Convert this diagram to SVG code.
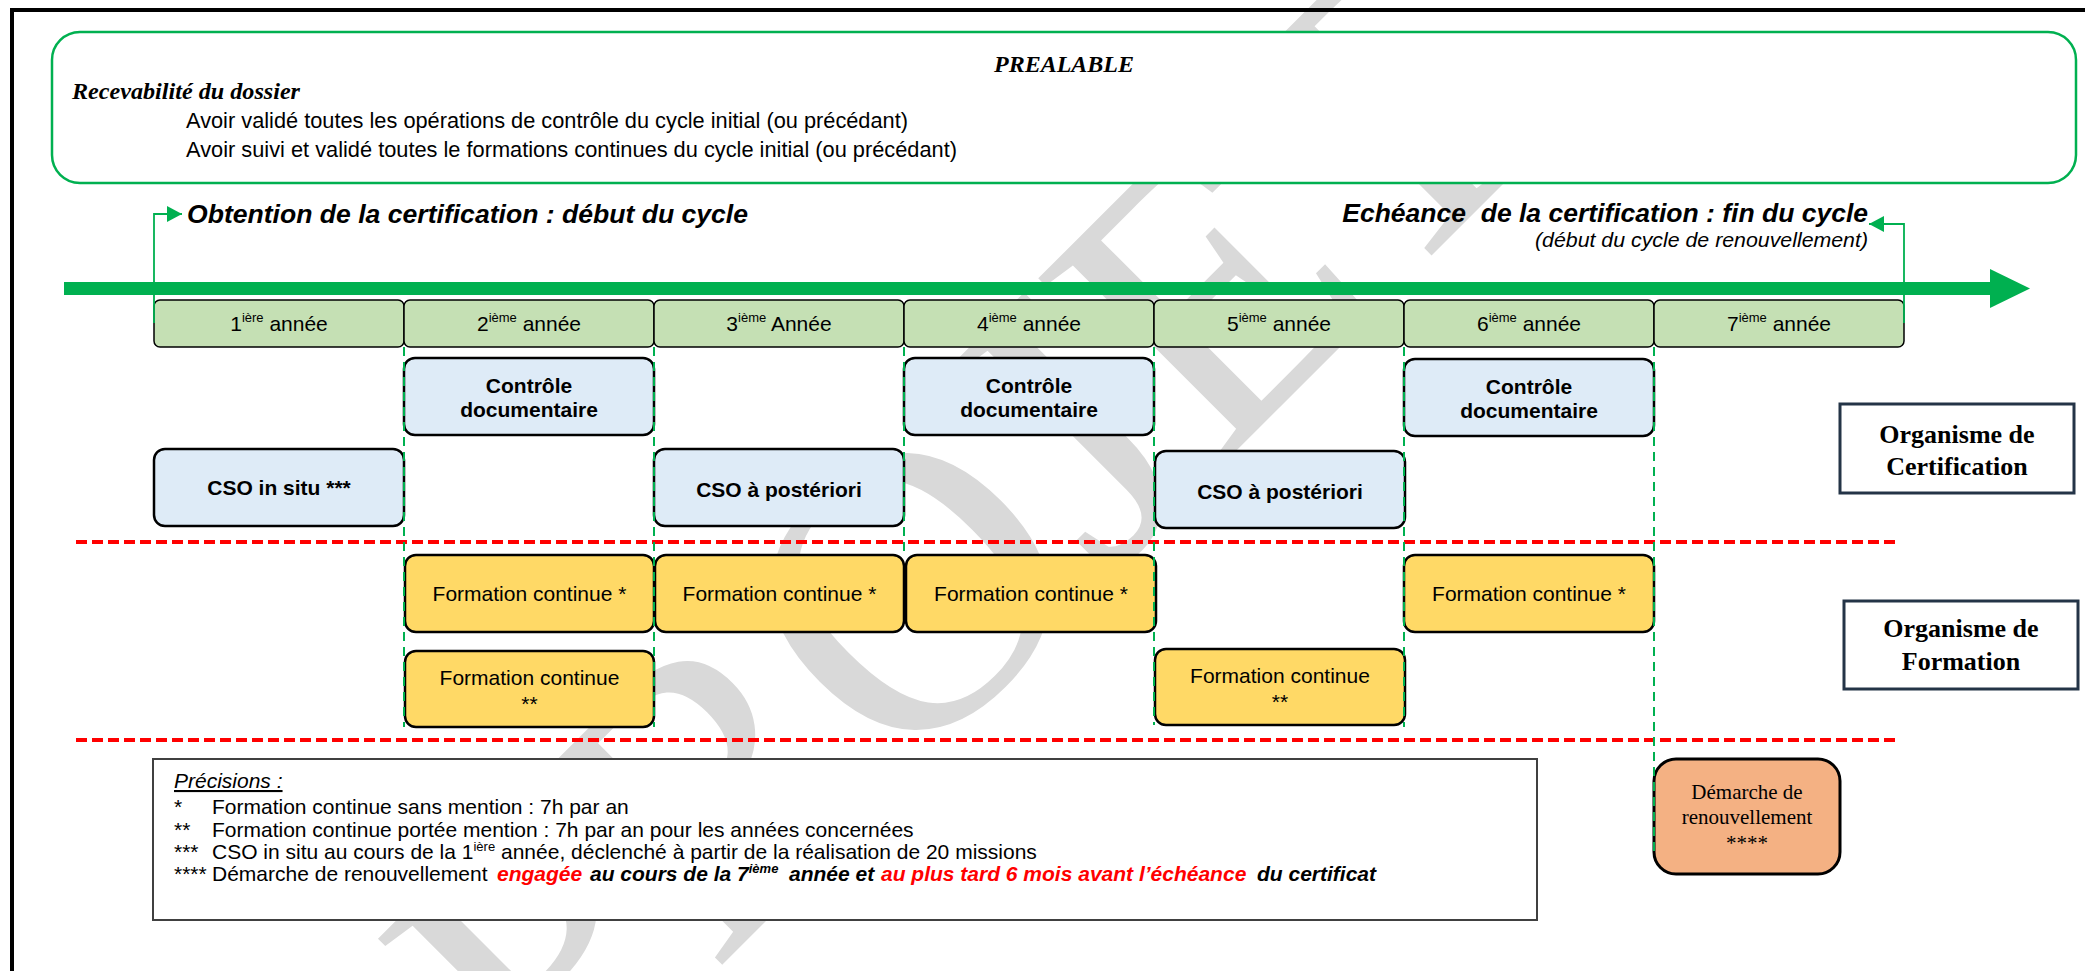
<svg xmlns="http://www.w3.org/2000/svg" width="2085" height="971" viewBox="0 0 2085 971">
<defs>
<style>
.sans{font-family:"Liberation Sans",Arial,sans-serif;fill:#000}
.serif{font-family:"Liberation Serif","Times New Roman",serif;fill:#000}
.f21{font-size:21px}
.b{font-weight:bold}
.i{font-style:italic}
.mid{text-anchor:middle}
.yr{fill:#C5E0B4;stroke:#000;stroke-width:1.5}
.blue{fill:#DEEBF7;stroke:#000;stroke-width:2.5}
.yel{fill:#FFD966;stroke:#000;stroke-width:2.5}
.org{fill:#fff;stroke:#243447;stroke-width:3}
.vguide{stroke:#00B050;stroke-width:2;stroke-dasharray:9 6;fill:none}
.red{stroke:#FF0000;stroke-width:4;stroke-dasharray:11 5;fill:none}
.conn{stroke:#00B050;stroke-width:1.8;fill:none}
.rd{fill:#FF0000}
</style>
<marker id="ah" markerUnits="userSpaceOnUse" markerWidth="15" markerHeight="16" viewBox="0 0 15 16" refX="15" refY="8" orient="auto">
<path d="M0,0 L15,8 L0,16 z" fill="#00B050"/>
</marker>
</defs>
<rect x="0" y="0" width="2085" height="971" fill="#fff"/>

<g id="watermark">
<text class="serif" x="0" y="0" transform="translate(555,1132) rotate(-45)" style="font-size:400px;fill:#D9D9D9">PROJET</text>
</g>

<path d="M12,971 V10 H2085" fill="none" stroke="#000" stroke-width="4"/>

<g id="prealable">
<rect x="52" y="32" width="2024" height="151" rx="28" fill="#fff" stroke="#00B050" stroke-width="2.5"/>
<text class="serif b i mid" x="1064" y="72" style="font-size:24px">PREALABLE</text>
<text class="serif b i" x="72" y="99" style="font-size:24px" textLength="228" lengthAdjust="spacingAndGlyphs">Recevabilité du dossier</text>
<text class="sans" x="186" y="128" style="font-size:22px" textLength="722" lengthAdjust="spacingAndGlyphs">Avoir validé toutes les opérations de contrôle du cycle initial (ou précédant)</text>
<text class="sans" x="186" y="157" style="font-size:22px" textLength="771" lengthAdjust="spacingAndGlyphs">Avoir suivi et validé toutes le formations continues du cycle initial (ou précédant)</text>
</g>

<g id="titles">
<text class="sans b i" x="187" y="223" style="font-size:26.5px" textLength="561" lengthAdjust="spacingAndGlyphs">Obtention de la certification : début du cycle</text>
<text class="sans b i" x="1868" y="222" style="font-size:26.5px;text-anchor:end" xml:space="preserve">Echéance  de la certification : fin du cycle</text>
<text class="sans i" x="1868" y="247" style="font-size:21px;text-anchor:end" textLength="333" lengthAdjust="spacingAndGlyphs">(début du cycle de renouvellement)</text>
</g>

<g id="timeline">
<path d="M64,288.5 H1992" stroke="#00B050" stroke-width="13" fill="none"/>
<polygon points="1990,269 2030,288.5 1990,308" fill="#00B050"/>
</g>

<g id="years">
<g id="y1"><rect class="yr" x="154" y="300" width="250" height="47" rx="6"/><text class="sans f21 mid" x="279" y="331">1<tspan style="font-size:13px" dy="-9">ière</tspan><tspan dy="9"> année</tspan></text></g>
<g id="y2"><rect class="yr" x="404" y="300" width="250" height="47" rx="6"/><text class="sans f21 mid" x="529" y="331">2<tspan style="font-size:13px" dy="-9">ième</tspan><tspan dy="9"> année</tspan></text></g>
<g id="y3"><rect class="yr" x="654" y="300" width="250" height="47" rx="6"/><text class="sans f21 mid" x="779" y="331">3<tspan style="font-size:13px" dy="-9">ième</tspan><tspan dy="9"> Année</tspan></text></g>
<g id="y4"><rect class="yr" x="904" y="300" width="250" height="47" rx="6"/><text class="sans f21 mid" x="1029" y="331">4<tspan style="font-size:13px" dy="-9">ième</tspan><tspan dy="9"> année</tspan></text></g>
<g id="y5"><rect class="yr" x="1154" y="300" width="250" height="47" rx="6"/><text class="sans f21 mid" x="1279" y="331">5<tspan style="font-size:13px" dy="-9">ième</tspan><tspan dy="9"> année</tspan></text></g>
<g id="y6"><rect class="yr" x="1404" y="300" width="250" height="47" rx="6"/><text class="sans f21 mid" x="1529" y="331">6<tspan style="font-size:13px" dy="-9">ième</tspan><tspan dy="9"> année</tspan></text></g>
<g id="y7"><rect class="yr" x="1654" y="300" width="250" height="47" rx="6"/><text class="sans f21 mid" x="1779" y="331">7<tspan style="font-size:13px" dy="-9">ième</tspan><tspan dy="9"> année</tspan></text></g>
</g>

<g id="controle2"><rect class="blue" x="404" y="358" width="250" height="77" rx="11"/><text class="sans f21 b mid" x="529" y="393">Contrôle</text><text class="sans f21 b mid" x="529" y="417">documentaire</text></g>
<g id="controle4"><rect class="blue" x="904" y="358" width="250" height="77" rx="11"/><text class="sans f21 b mid" x="1029" y="393">Contrôle</text><text class="sans f21 b mid" x="1029" y="417">documentaire</text></g>
<g id="controle6"><rect class="blue" x="1404" y="359" width="250" height="77" rx="11"/><text class="sans f21 b mid" x="1529" y="394">Contrôle</text><text class="sans f21 b mid" x="1529" y="418">documentaire</text></g>

<g id="cso1"><rect class="blue" x="154" y="449" width="250" height="77" rx="11"/><text class="sans f21 b mid" x="279" y="495">CSO in situ ***</text></g>
<g id="cso3"><rect class="blue" x="654" y="449" width="250" height="77" rx="11"/><text class="sans f21 b mid" x="779" y="497">CSO à postériori</text></g>
<g id="cso5"><rect class="blue" x="1155" y="451" width="250" height="77" rx="11"/><text class="sans f21 b mid" x="1280" y="499">CSO à postériori</text></g>

<g id="fc2"><rect class="yel" x="405" y="555" width="249" height="77" rx="11"/><text class="sans f21 mid" x="529.5" y="601">Formation continue *</text></g>
<g id="fc3"><rect class="yel" x="655" y="555" width="249" height="77" rx="11"/><text class="sans f21 mid" x="779.5" y="601">Formation continue *</text></g>
<g id="fc4"><rect class="yel" x="906" y="555" width="250" height="77" rx="11"/><text class="sans f21 mid" x="1031" y="601">Formation continue *</text></g>
<g id="fc6"><rect class="yel" x="1404" y="555" width="250" height="77" rx="11"/><text class="sans f21 mid" x="1529" y="601">Formation continue *</text></g>

<g id="fcm2"><rect class="yel" x="405" y="651" width="249" height="76" rx="11"/><text class="sans f21 mid" x="529.5" y="685">Formation continue</text><text class="sans f21 mid" x="529.5" y="711">**</text></g>
<g id="fcm5"><rect class="yel" x="1155" y="649" width="250" height="76" rx="11"/><text class="sans f21 mid" x="1280" y="683">Formation continue</text><text class="sans f21 mid" x="1280" y="709">**</text></g>

<g id="org-certif"><rect class="org" x="1840" y="404" width="234" height="89"/><text class="serif b mid" x="1957" y="443" style="font-size:26px">Organisme de</text><text class="serif b mid" x="1957" y="475" style="font-size:26px">Certification</text></g>
<g id="org-form"><rect class="org" x="1844" y="601" width="234" height="88"/><text class="serif b mid" x="1961" y="637" style="font-size:26px">Organisme de</text><text class="serif b mid" x="1961" y="670" style="font-size:26px">Formation</text></g>

<g id="demarche"><rect x="1654" y="759" width="186" height="115" rx="22" fill="#F4B183" stroke="#000" stroke-width="3"/><text class="serif f21 mid" x="1747" y="799">Démarche de</text><text class="serif f21 mid" x="1747" y="824">renouvellement</text><text class="serif f21 mid" x="1747" y="850">****</text></g>

<g id="precisions">
<rect x="153" y="759" width="1384" height="161" fill="#fff" stroke="#404040" stroke-width="2"/>
<text class="sans f21 i" x="174" y="788" style="text-decoration:underline">Précisions :</text>
<text class="sans f21" x="174" y="814">*</text>
<text class="sans f21" x="212" y="814">Formation continue sans mention : 7h par an</text>
<text class="sans f21" x="174" y="837">**</text>
<text class="sans f21" x="212" y="837">Formation continue portée mention : 7h par an pour les années concernées</text>
<text class="sans f21" x="174" y="859">***</text>
<text class="sans f21" x="212" y="859">CSO in situ au cours de la 1<tspan style="font-size:13px" dy="-8">ière</tspan><tspan dy="8"> année, déclenché à partir de la réalisation de 20 missions</tspan></text>
<text class="sans f21" x="174" y="881">****</text>
<text class="sans f21" x="212" y="881">Démarche de renouvellement <tspan class="rd b i" x="497">engagée</tspan><tspan class="b i" x="590">au cours de la 7</tspan><tspan class="b i" style="font-size:13px" dy="-8">ième</tspan><tspan class="b i" x="789" dy="8">année et</tspan><tspan class="rd b i" x="881">au plus tard 6 mois avant l’échéance</tspan><tspan class="b i" x="1257">du certificat</tspan></text>
</g>

<g id="connectors">
<path class="red" d="M76,542 H1896"/>
<path class="red" d="M76,740 H1896"/>
<path class="vguide" d="M404,347 V727"/>
<path class="vguide" d="M654,347 V727"/>
<path class="vguide" d="M904,347 V555"/>
<path class="vguide" d="M1154,347 V725"/>
<path class="vguide" d="M1404,347 V727"/>
<path class="vguide" d="M1654,347 V853"/>
<path class="conn" d="M154,323 V214 H182" marker-end="url(#ah)"/>
<path class="conn" d="M1904,323 V224 H1869" marker-end="url(#ah)"/>
</g>
</svg>
